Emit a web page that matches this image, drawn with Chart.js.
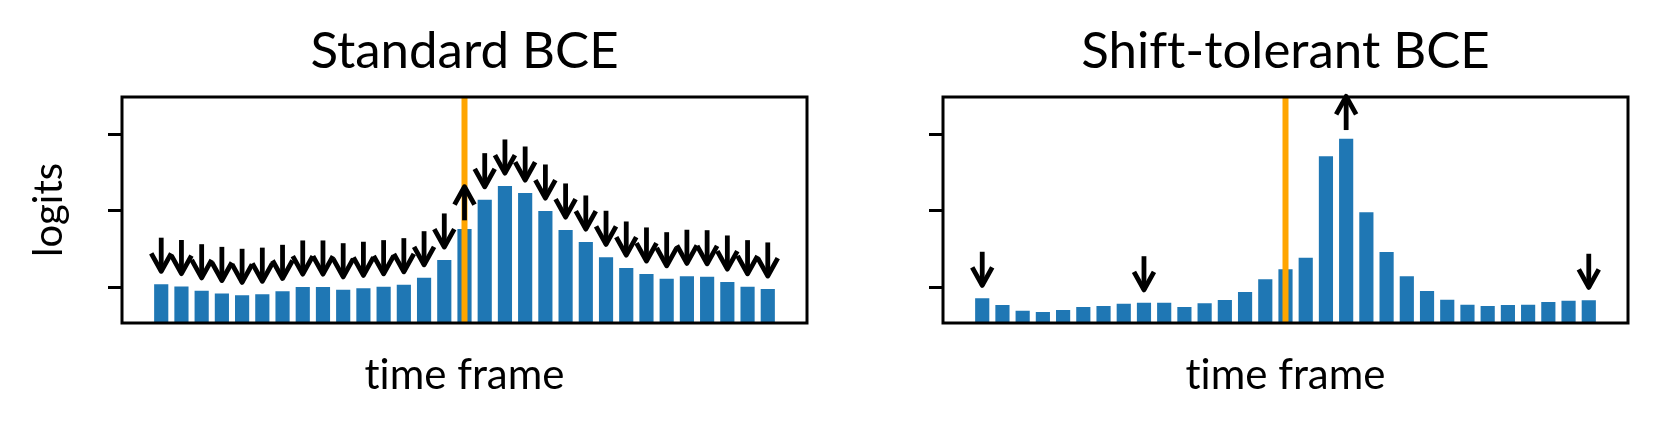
<!DOCTYPE html>
<html>
<head>
<meta charset="utf-8">
<title>Standard vs Shift-tolerant BCE</title>
<script src="https://cdn.jsdelivr.net/npm/chart.js@4/dist/chart.umd.min.js"></script>
<style>
  html, body { margin: 0; padding: 0; background: #fff; }
  #wrap { position: relative; width: 1661px; height: 431px; overflow: hidden; }
  canvas { position: absolute; top: 0; font-variant-ligatures: none; }
  #bceChart { left: 0; }
  #shiftChart { left: 830px; }
</style>
</head>
<body>
<div id="wrap">
  <canvas id="bceChart" width="830" height="431"></canvas>
  <canvas id="shiftChart" width="831" height="431"></canvas>
</div>
<script>
// ── Data ─────────────────────────────────────────────────────────────────────

const frames = Array.from({ length: 31 }, (_, i) => i);   // time frame index
const targetFrame = 15;                                    // orange onset line

const bceLogits = [0.52, 0.49, 0.435, 0.40, 0.375, 0.39, 0.427, 0.484, 0.484, 0.448,
                   0.467, 0.488, 0.514, 0.605, 0.837, 1.242, 1.625, 1.804, 1.712, 1.477,
                   1.229, 1.072, 0.872, 0.732, 0.654, 0.592, 0.624, 0.618, 0.549, 0.488, 0.458];

const shiftLogits = [0.336, 0.248, 0.174, 0.157, 0.183, 0.222, 0.235, 0.265, 0.278, 0.278,
                     0.222, 0.271, 0.314, 0.418, 0.584, 0.715, 0.867, 2.192, 2.422, 1.460,
                     0.941, 0.624, 0.431, 0.318, 0.252, 0.235, 0.248, 0.252, 0.288, 0.305, 0.310];

// which frames get pushed down / up by the loss
const bceDown = [0, 1, 2, 3, 4, 5, 6, 7, 8, 9, 10, 11, 12, 13, 14,
                 16, 17, 18, 19, 20, 21, 22, 23, 24, 25, 26, 27, 28, 29, 30];
const bceUp = [15];
const shiftDown = [0, 8, 30];
const shiftUp = [18];

const yTicks = [0.467, 1.467, 2.467];
const yMax = 2.954;

// ── Helpers ──────────────────────────────────────────────────────────────────

const FONT = 'Lato, "Liberation Sans", sans-serif';

function _line(ctx, x1, y1, x2, y2) {
    ctx.beginPath();
    ctx.moveTo(x1, y1);
    ctx.lineTo(x2, y2);
    ctx.stroke();
}

function _arrow(ctx, x, yTail, yTip) {
    const dir = yTip > yTail ? 1 : -1;   // +1 points down on screen
    _line(ctx, x, yTail, x, yTip);
    ctx.beginPath();
    ctx.moveTo(x - 10, yTip - dir * 18);
    ctx.lineTo(x, yTip);
    ctx.lineTo(x + 10, yTip - dir * 18);
    ctx.stroke();
}

// onset line, arrows and the box frame
const marksPlugin = {
    id: 'marks',
    beforeDraw(chart) {
        // no "ti" / "ft" ligatures, like the original figure
        if ('textRendering' in chart.ctx) chart.ctx.textRendering = 'optimizeSpeed';
    },
    afterDatasetsDraw(chart, args, opts) {
        const { ctx, chartArea: a, scales: { x, y } } = chart;
        const vals = chart.data.datasets[0].data;
        ctx.save();

        const tx = x.getPixelForValue(opts.target);
        ctx.strokeStyle = '#ffa500';
        ctx.lineWidth = 6;
        _line(ctx, tx, a.top, tx, a.bottom);

        ctx.strokeStyle = '#000';
        ctx.lineWidth = 4.8;
        ctx.lineJoin = 'round';
        ctx.lineCap = 'butt';
        opts.down.forEach(i => {
            const px = x.getPixelForValue(i);
            const tip = vals[i].y + 0.155;
            _arrow(ctx, px, y.getPixelForValue(tip + 0.44), y.getPixelForValue(tip));
        });
        opts.up.forEach(i => {
            const px = x.getPixelForValue(i);
            const tail = vals[i].y + 0.1;
            _arrow(ctx, px, y.getPixelForValue(tail), y.getPixelForValue(tail + 0.44));
        });
        ctx.restore();
    },
    afterDraw(chart) {
        const { ctx, chartArea: a } = chart;
        ctx.save();
        ctx.strokeStyle = '#000';
        ctx.lineWidth = 3;
        ctx.strokeRect(a.left, a.top, a.right - a.left, a.bottom - a.top);
        ctx.restore();
    }
};

// ── Chart Builder ────────────────────────────────────────────────────────────

function buildPanel(canvasId, title, values, down, up, opts) {
    const ctx = document.getElementById(canvasId).getContext('2d');
    return new Chart(ctx, {
        type: 'bar',
        data: {
            datasets: [{
                data: values.map((v, i) => ({ x: frames[i], y: v })),
                backgroundColor: '#1f77b4',
                borderColor: 'rgba(255,255,255,0.55)',
                borderWidth: 1,
                barPercentage: 0.8,
                categoryPercentage: 1.0
            }]
        },
        plugins: [marksPlugin],
        options: {
            responsive: false,
            animation: false,
            events: [],
            layout: { padding: { left: 0, right: opts.padRight, top: 0, bottom: 0 } },
            scales: {
                x: {
                    type: 'linear',
                    offset: false,
                    min: -1.94,
                    max: 31.94,
                    grid: { display: false, drawTicks: false },
                    border: { display: false },
                    ticks: { display: false },
                    title: {
                        display: true,
                        text: 'time frame',
                        color: '#000',
                        font: { family: FONT, size: 42 },
                        padding: { top: 27, bottom: 30.5 }
                    },
                    afterFit: s => { s.height = 108; }
                },
                y: {
                    min: 0,
                    max: yMax,
                    afterBuildTicks: s => { s.ticks = yTicks.map(v => ({ value: v })); },
                    grid: {
                        display: true,
                        drawOnChartArea: false,
                        drawTicks: true,
                        tickLength: 14,
                        tickWidth: 3,
                        tickColor: '#000'
                    },
                    border: { display: false },
                    ticks: { display: false },
                    title: {
                        display: opts.yTitle,
                        text: 'logits',
                        color: '#000',
                        font: { family: FONT, size: 40 },
                        padding: { top: 25.3, bottom: 0 }
                    },
                    afterFit: s => { s.width = opts.yWidth; }
                }
            },
            plugins: {
                legend: { display: false },
                tooltip: { enabled: false },
                title: {
                    display: true,
                    text: title,
                    fullSize: false,
                    color: '#000',
                    font: { family: FONT, size: 51, weight: 'normal' },
                    padding: { top: 21.4, bottom: 14.4 }
                },
                marks: { target: targetFrame, down, up }
            }
        }
    });
}

function _init() {
    buildPanel('bceChart', 'Standard BCE', bceLogits, bceDown, bceUp,
               { padRight: 23, yWidth: 122, yTitle: true });
    buildPanel('shiftChart', 'Shift-tolerant BCE', shiftLogits, shiftDown, shiftUp,
               { padRight: 33, yWidth: 113, yTitle: false });
}

if (document.fonts && document.fonts.load) {
    Promise.all([document.fonts.load('40px Lato')]).then(_init, _init);
} else {
    _init();
}
</script>
</body>
</html>
